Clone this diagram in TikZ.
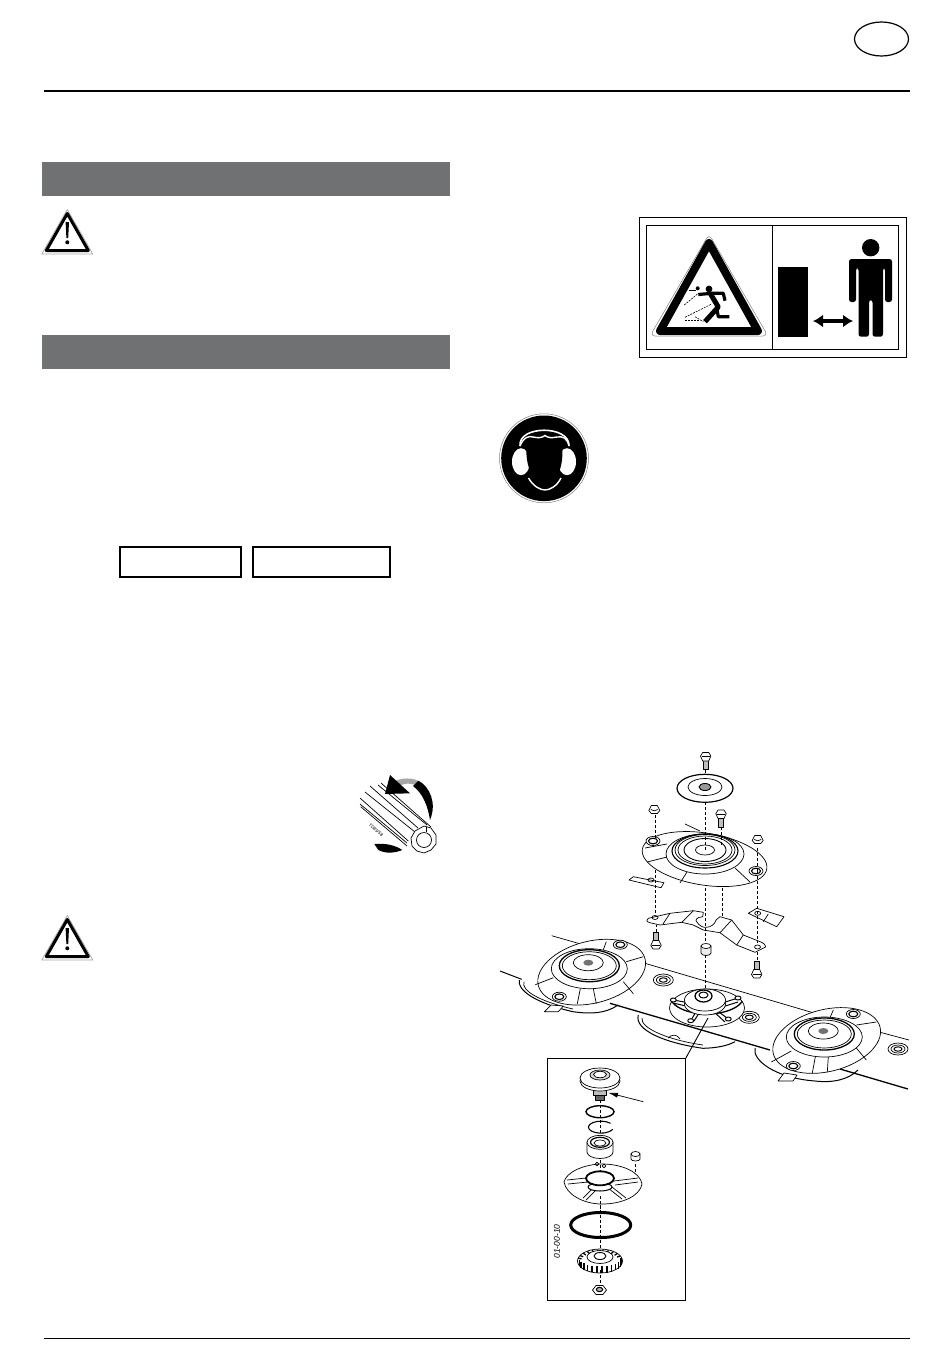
\documentclass[tikz,border=0pt]{standalone}
\usepackage{fontspec}
\setmainfont{Liberation Sans}
\usetikzlibrary{arrows.meta}

\newcommand{\warnsign}[2]{%
\begin{scope}[shift={(#1,#2)}]
\draw[gray!70, line width=0.7pt, line join=round] (0,-3.5) -- (-25.5,41) -- (25.5,41) -- cycle;
\draw[line width=3pt, line join=round, fill=white] (0,0.5) -- (-21,37.5) -- (21,37.5) -- cycle;
\fill (-1.7,9) -- (1.7,9) -- (0.9,25) -- (-0.9,25) -- cycle;
\fill (0,29.3) circle (2);
\end{scope}}

% hub x, hub y, tilt, radii, bolts, radial lines
\newcommand{\cutdisc}[7]{%
\begin{scope}[shift={(#1,#2)}, partline]
\draw[fill=white, rotate=#3] (1,10) ellipse [x radius=#4, y radius=#5];
\foreach \ax/\ay/\bx/\by in {#7} \draw (\ax,\ay) -- (\bx,\by);
\draw[fill=white] (1,6) ellipse [x radius=38, y radius=20];
\draw[fill=white, line width=1.3pt] (1,3) ellipse [x radius=30, y radius=16];
\draw (1,3) ellipse [x radius=27, y radius=14];
\draw (0,0) ellipse [x radius=15, y radius=8];
\fill[black!55] (0,0) ellipse [x radius=5, y radius=3];
\foreach \bx/\by in {#6} {
\draw[fill=white] (\bx,\by) ellipse [x radius=7, y radius=4.5];
\draw[line width=1.1pt] (\bx,\by) ellipse [x radius=4.5, y radius=2.8];
}
\end{scope}}

\newcommand{\flangenut}[2]{%
\begin{scope}[shift={(#1,#2)}, partline]
\draw[fill=white] (-5.5,1.5) -- (-3,-3.5) -- (3,-3.5) -- (5.5,1.5) -- (3,4.5) -- (-3,4.5) -- cycle;
\draw (-3.5,0.5) -- (0,1.8) -- (3.5,0.5);
\end{scope}}

\newcommand{\capbolt}[3]{%
\begin{scope}[shift={(#1,#2)}, partline, yscale=#3]
\draw[fill=black!25] (-2.5,3) rectangle (2.5,12);
\draw[fill=white] (-5.2,-1.5) -- (-3,-5) -- (3,-5) -- (5.2,-1.5) -- (3,3.5) -- (-3,3.5) -- cycle;
\draw (-4,-1) -- (4,-1);
\end{scope}}

\newcommand{\barbolt}[2]{%
\begin{scope}[shift={(#1,#2)}, partline]
\draw[fill=white] (0,0) ellipse [x radius=10, y radius=6];
\draw (0,0) ellipse [x radius=7, y radius=4];
\draw[line width=1pt] (0,0) ellipse [x radius=4, y radius=2.2];
\end{scope}}

\begin{document}
\begin{tikzpicture}[x=1pt, y=-1pt]
\tikzset{partline/.style={line width=0.7pt, line join=round}}
\tikzset{framebox/.style={draw, line width=1.6pt}}
\tikzset{axisline/.style={line width=0.9pt, dash pattern=on 3pt off 2pt}}
\definecolor{bargray}{HTML}{707172}
\useasboundingbox (0,0) rectangle (950,1369);

% page furniture
\draw[line width=1.2pt] (881.5,39) ellipse [x radius=27, y radius=17];
\draw[line width=2.4pt] (44,91) -- (910,91);
\draw[line width=0.8pt] (44,1338) -- (910,1338);
\fill[bargray] (42,162) rectangle (450,196);
\fill[bargray] (42,335) rectangle (450,369);
\warnsign{67.3}{213}
\warnsign{67.3}{919}
\draw[framebox] (120,547) rectangle (241,577);
\draw[framebox] (253,547) rectangle (390,577);

% decal
\draw[line width=0.9pt] (639,217) rectangle (906,357);
\draw[line width=0.9pt] (646,225) rectangle (898,349);
\draw[line width=0.9pt] (772,225) -- (772,349);
\draw[gray, line width=0.5pt, line join=round, rounded corners=5pt] (709,234) -- (650,336) -- (768,336) -- cycle;
\draw[line width=8pt, line join=round] (709,243) -- (660,331) -- (758,331) -- cycle;
\fill (709,289) circle (3.4);
\fill (697.7,288.3) circle (2);
\draw[line width=3.2pt, line join=round] (698.3,294.5) -- (711.7,293.3) -- (723.3,293.3) -- (725,300.7);
\draw[line width=5pt, line join=round] (710,293) -- (718.3,307) -- (705,321.7);
\draw[line width=3.2pt, line join=round] (716.7,308) -- (718.3,316.7) -- (729.3,316.7);
\draw[line width=0.6pt, dash pattern=on 2pt off 1pt] (684.3,305) -- (698.3,293.3);
\draw[line width=0.6pt, dash pattern=on 2pt off 1pt] (685,317.3) -- (711.7,304);
\draw[line width=0.6pt, dash pattern=on 2pt off 1pt] (685,320) -- (700,320);
\draw[line width=0.6pt, dash pattern=on 2pt off 1pt] (695,316.7) -- (703.3,321.7);
\draw[line width=1pt] (689,290) -- (696,290);
\fill (778.3,266.7) rectangle (808.3,337.3);
\draw[line width=3.6pt, {Latex[length=10pt,width=13pt]}-{Latex[length=10pt,width=13pt]}] (813,321) -- (853,321);
\fill (870.7,247.7) circle (8.7);
\fill[rounded corners=2.5pt] (849,259) -- (892,259) -- (892,302) -- (885,302) -- (885,268) -- (883,268) -- (883,336.7) -- (872.5,336.7) -- (872.5,300) -- (869,300) -- (869,336.7) -- (858.5,336.7) -- (858.5,268) -- (856,268) -- (856,302) -- (849,302) -- cycle;

% ear protection
\draw[gray, line width=0.5pt] (544,458.3) circle (44.5);
\fill (544,458.3) circle (42.8);
\fill[white] (521,461.7) ellipse [x radius=9, y radius=13.5];
\fill[white] (567,461.7) ellipse [x radius=9, y radius=13.5];
\draw[white, line width=1.6pt] (520,446) .. controls (518,425) and (570,425) .. (569,446);
\fill[black] (526.5,440) .. controls (532,432) and (556,432) .. (562,440) .. controls (564,465) and (560,478) .. (545,488) .. controls (530,478) and (525,465) .. (526.5,440) -- cycle;
\draw[white, line width=1.4pt] (520,446) .. controls (524,436) and (530,436) .. (533,437) .. controls (538,438) and (542,438) .. (545,435.5) .. controls (548,438) and (552,438) .. (557,437) .. controls (563,436) and (567,438) .. (569,446);
\draw[white, line width=1.4pt] (528.5,478) .. controls (533,486) and (540,490) .. (545,490) .. controls (550,490) and (557,486) .. (561,478);

% splined shaft
\foreach \ax/\ay/\bx/\by in {360.7/806.7/407/846, 360/804/407/843, 360/798/408.3/841, 365/792/415/832, 370/786/418/828, 378/785/427/825, 381/783/431/827}
  \draw[line width=0.7pt] (\ax,\ay) -- (\bx,\by);
\draw[partline, fill=white] (424,826) -- (431,828) -- (436,835) -- (436,844) -- (431,850) -- (424,853) -- (417,851) -- (412,846) -- (411,838) -- (415,831) -- cycle;
\draw[partline, fill=white] (424,840) circle (7.5);
\draw[line width=0.9pt] (426.5,826.5) -- (426.5,832);
\fill[gray!70] (396,780.7) .. controls (405,776.7) and (418,778) .. (423.3,785) -- (415,785) .. controls (410,783) and (405,783) .. (399,786) -- cycle;
\fill (418.3,780.7) .. controls (430,786.7) and (437,803.3) .. (430,820) .. controls (428,806.7) and (423,793.3) .. (413,786) -- cycle;
\fill (390,775) -- (385,794) -- (410,793.3) -- cycle;
\fill (374.3,844) .. controls (385,843) and (395,845) .. (402.3,850) .. controls (395,853) and (386,854) .. (378.3,850) -- cycle;
\node[rotate=-41, font=\itshape\fontsize{4.5}{5}\selectfont, inner sep=0pt] (shaftcode) at (376,830) {TD85/58};

% cutter bar
\draw[partline] (551.7,935.7) -- (586.7,945.7);
\draw[partline] (645,963.3) -- (815,1013.3);
\draw[partline] (878,1031.7) -- (909,1040);
\draw[line width=1pt] (500,971) -- (521.7,979.3);
\draw[line width=1.3pt] (610,1003.3) -- (770,1050);
\draw[line width=1.3pt] (840,1069) -- (908,1089);
\draw[line width=1pt] (519.3,980) .. controls (517,990) and (535,1003) .. (573,1011.7) .. controls (590,1014) and (605,1014) .. (618,1005);
\draw[partline] (524,982) .. controls (521,990) and (538,1001) .. (573,1009);
\draw[line width=1pt] (638.3,1015) .. controls (634,1030) and (665,1043) .. (703,1048.3) .. controls (716,1048) and (727,1046) .. (735,1041.7);
\draw[partline] (642,1018) .. controls (640,1028) and (668,1040) .. (703,1045);
\draw[partline] (668,1038) .. controls (672,1034) and (677,1034) .. (680,1039);
\draw[line width=1pt] (755,1048) .. controls (752,1060) and (775,1078) .. (815,1081) .. controls (832,1083) and (848,1080) .. (858,1070);
\draw[partline, fill=white] (544.3,1011.7) -- (551,1005) -- (563.3,1006) -- (558.3,1011.7) -- cycle;
\draw[partline, fill=white] (778,1081) -- (784,1073) -- (797,1075) -- (793,1081) -- cycle;
\barbolt{663.3}{980}
\barbolt{749.3}{1017.3}
\barbolt{898}{1049}

% centre hub on the bar
\begin{scope}[partline]
\draw[fill=white] (707,1008) ellipse [x radius=37.5, y radius=19];
\draw[line width=1.3pt] (707,1008) ++(-20:37.5 and 19) arc [start angle=20, end angle=160, x radius=37.5, y radius=19];
\foreach \ax/\ay/\bx/\by in {673.3/1000/690/1003, 673.3/1003/690/1007, 738/998/722/1003, 738/1002/722/1007, 690.7/1020.7/697/1010, 694/1021/701/1010, 728.3/1019/715/1009, 725/1022/712/1010}
  \draw[line width=1pt] (\ax,\ay) -- (\bx,\by);
\foreach \bx/\by in {673.3/1000, 738/998, 690.7/1020.7, 728.3/1019}
  \draw[fill=white, line width=1pt] (\bx,\by) ellipse [x radius=3, y radius=2];
\draw[fill=white] (705,1004) ellipse [x radius=20.5, y radius=11];
\draw[fill=white] (705,1000) ellipse [x radius=20.5, y radius=11];
\draw[line width=1.3pt, fill=white] (703.5,996) ellipse [x radius=8.5, y radius=6];
\draw[line width=1pt] (703.5,995) ellipse [x radius=4.5, y radius=3];
\end{scope}

% discs on the bar
\cutdisc{588.3}{962.7}{14}{55}{31}{32/-18,-29/34}{-53/22/-35/15, -8/26/-11/41, 5/26/8/41, 35/19/45/31, 18/-21/15/-13, 55/-6/38/-1}
\cutdisc{823.3}{1031}{14}{55}{31}{30/-17,-30/35}{-52/31/-32/20, -8/26/-11/42, 5/26/4/41, 33/17/43/29, 10/-21/7/-14, 53/-9/33/-6}

% exploded parts
\coordinate (topbolt) at (705.7,770);
\coordinate (tophub) at (705.7,850);
\draw[axisline] (topbolt) -- (705.7,780);
\begin{scope}[partline]
\draw[fill=white, line width=1.2pt] (705,788.3) ellipse [x radius=28, y radius=14];
\draw (705,787) ellipse [x radius=17, y radius=8.5];
\draw[line width=0.9pt, fill=black!40] (705,787) ellipse [x radius=6, y radius=3.5];
\end{scope}
\capbolt{705.7}{757.5}{1}

% upper disc with its bolts
\begin{scope}[shift={(705,850)}, partline]
\draw[fill=white, rotate=-9] (1,9) ellipse [x radius=63, y radius=26];
\foreach \ax/\ay/\bx/\by in {-60/-2/-38/-6, -58/12/-38/7, -18/22/-25/33, 30/18/45/32, -5/-19/-20/-26}
  \draw (\ax,\ay) -- (\bx,\by);
\draw[fill=white] (0,4) ellipse [x radius=39, y radius=20];
\draw[line width=1.1pt] (0,1) ellipse [x radius=33, y radius=17];
\draw (0,0) ellipse [x radius=30, y radius=15.5];
\draw (0,0) ellipse [x radius=27, y radius=14];
\draw[line width=0.9pt, fill=white] (0,0) ellipse [x radius=21, y radius=11.5];
\draw (0,0) ellipse [x radius=9.5, y radius=5];
\foreach \bx/\by in {-52/-9, 51/21}
  {\draw[fill=white] (\bx,\by) ellipse [x radius=7, y radius=4.5];
   \draw[line width=1.1pt] (\bx,\by) ellipse [x radius=4.5, y radius=2.8];}
\end{scope}
\draw[axisline] (705.7,802) -- (tophub);
\draw[axisline] (721.3,827) -- (721.3,846.7);
\draw[axisline] (655,815) -- (655,838);
\draw[axisline] (757.3,848) -- (757.3,871);
\flangenut{654.3}{809}
\capbolt{721}{815}{1}
\flangenut{757.7}{839}
\draw[partline, fill=white] (629,880) -- (633.3,876.7) -- (664,882.7) -- (661,887.7) -- cycle;
\draw[partline] (651,880) ellipse [x radius=3, y radius=2];
\draw[partline, fill=white] (748.3,913.3) -- (756.7,908.3) -- (784,916.7) -- (776.7,926.7) -- cycle;
\draw[partline] (768.3,914) -- (763.3,921.7);
\draw[partline] (757.7,913.3) ellipse [x radius=3, y radius=2];
\draw[partline, fill=white] (648.3,918.3) -- (670,913.3) -- (693.3,910.7) -- (703.3,912.3) -- (702.7,916.7) .. controls (696,917) and (695,921) .. (696.7,921.7) .. controls (699,926) and (704,928) .. (706.7,927.3) .. controls (711,927) and (715,924) .. (716,920) -- (720,916.7) -- (731.7,920) -- (743.3,935) -- (761.7,942.3) .. controls (766,944) and (766,948) .. (765,947.3) -- (755,952.3) -- (736.7,945) -- (720,932.7) -- (703.3,930) -- (693.3,925) -- (681.7,922.3) -- (660,925) -- (650,922.7) .. controls (646,922) and (646,919) .. (648.3,918.3) -- cycle;
\draw[partline] (670,913.3) -- (663,924);
\draw[partline] (693.3,910.7) -- (681.7,922.3);
\draw[partline] (731.7,920) -- (720,932.7);
\draw[partline] (743.3,935) -- (736.7,945);
\draw[partline] (655,917.5) ellipse [x radius=3, y radius=2];
\draw[partline] (757.5,947) ellipse [x radius=3, y radius=2];
\draw[axisline] (705.2,888) -- (705.2,943);
\draw[axisline] (722.3,888.3) -- (722.3,916.7);
\draw[axisline] (655,870) -- (655,914);
\draw[axisline] (757.3,871) -- (757.3,943);
\capbolt{656}{944}{-1}
\capbolt{756.7}{973}{-1}
\draw[axisline] (656,932) -- (656,925);
\draw[axisline] (757,952) -- (757,961);
\draw[partline, fill=black!8] (701,946) -- (701,953) arc [start angle=180, end angle=0, x radius=5, y radius=2.5] -- (711,946) -- cycle;
\draw[partline, fill=white] (706,946) ellipse [x radius=5, y radius=2.5];
\draw[axisline] (705.2,955) -- (705.2,988);

% detail inset
\draw[line width=0.9pt] (685.7,1058.3) -- (708,1018);
\draw[line width=0.9pt, fill=white] (547.3,1058.3) rectangle (685.7,1300.7);
\draw[axisline] (600,1100) -- (600,1280);
\begin{scope}[partline]
\draw[fill=black!25] (593.5,1086) rectangle (606.5,1095);
\draw[fill=black!60] (595.5,1095) rectangle (604.5,1100);
\draw[fill=white] (600,1081) ellipse [x radius=20, y radius=10];
\draw[fill=white] (600,1078) ellipse [x radius=20, y radius=10];
\draw[fill=black!15] (600,1075) ellipse [x radius=10, y radius=5];
\draw[fill=white] (600,1074.5) ellipse [x radius=6.5, y radius=3.2];
\end{scope}
\draw[line width=0.7pt, -{Latex[length=10pt,width=5pt]}] (643.3,1101.7) -- (608,1092.7);
\draw[line width=1.4pt] (600,1111.7) ellipse [x radius=14, y radius=6];
\draw[line width=1.1pt] (610.5,1123.3) arc [start angle=-40, end angle=-340, x radius=12.5, y radius=6];
\begin{scope}[partline]
\draw[fill=white] (587,1142) -- (587,1152) arc [start angle=180, end angle=0, x radius=13, y radius=6.5] -- (613,1142) -- cycle;
\draw[fill=white] (600,1142.3) ellipse [x radius=13, y radius=7];
\draw[line width=1.2pt] (600,1142.3) ellipse [x radius=9.5, y radius=5];
\draw (600,1143) ellipse [x radius=6, y radius=3];
\draw[fill=white] (564,1182) .. controls (566,1172) and (585,1164) .. (602,1164) .. controls (622,1164) and (640,1172) .. (642,1184) .. controls (640,1196) and (622,1204) .. (602,1204) .. controls (583,1204) and (566,1194) .. (564,1182) -- cycle;
\foreach \ax/\ay/\bx/\by in {567/1180/586/1178, 568/1184/588/1182, 583/1198/594/1187, 586/1200/598/1188, 638/1178/614/1181, 638/1182/615/1185, 626/1198/612/1187, 622/1199/608/1188}
  \draw (\ax,\ay) -- (\bx,\by);
\draw[line width=1pt, fill=white] (600,1187) ellipse [x radius=12, y radius=4];
\draw[line width=1.8pt, fill=white] (600,1178.3) ellipse [x radius=14, y radius=7];
\draw (597,1164) circle (1.8);
\draw (604,1166) circle (1.8);
\draw[fill=white] (631,1154) -- (631,1159) arc [start angle=180, end angle=0, x radius=4.5, y radius=2] -- (640,1154) -- cycle;
\draw[fill=white] (635.5,1154) ellipse [x radius=4.5, y radius=2.5];
\draw[axisline] (635.5,1164) -- (635.5,1172);
\draw[line width=3pt] (600.7,1225) ellipse [x radius=30, y radius=12.5];
\draw[fill=white] (600,1261) ellipse [x radius=22.5, y radius=12];
\begin{scope}[shift={(600,1261)}]
\foreach \a in {0,14,...,180}
  \draw[line width=1.5pt, shift={(\a:21 and 8.5)}] (0,-3) -- (0,3.5);
\foreach \a in {194,208,...,346}
  \draw[line width=1.3pt] (\a:19 and 9) -- (\a:22.5 and 11.5);
\end{scope}
\draw[fill=white] (600,1257) ellipse [x radius=13, y radius=6.5];
\draw[line width=0.9pt] (600,1256) ellipse [x radius=6, y radius=3.5];
\draw[fill=white] (592.5,1290) -- (596,1285.5) -- (603,1285.5) -- (606.5,1290) -- (603,1294.5) -- (596,1294.5) -- cycle;
\draw[line width=1pt, fill=black!30] (599.5,1289.5) ellipse [x radius=3.2, y radius=2.2];
\end{scope}
\draw[axisline] (600,1270) -- (600,1284);
\draw[axisline] (600,1160) -- (600,1172);
\draw[axisline] (600,1196) -- (600,1216);
\node[rotate=90, font=\itshape\fontsize{8.5}{10}\selectfont, inner sep=0pt] (partcode) at (557,1241.5) {01-00-10};
\end{tikzpicture}
\end{document}
